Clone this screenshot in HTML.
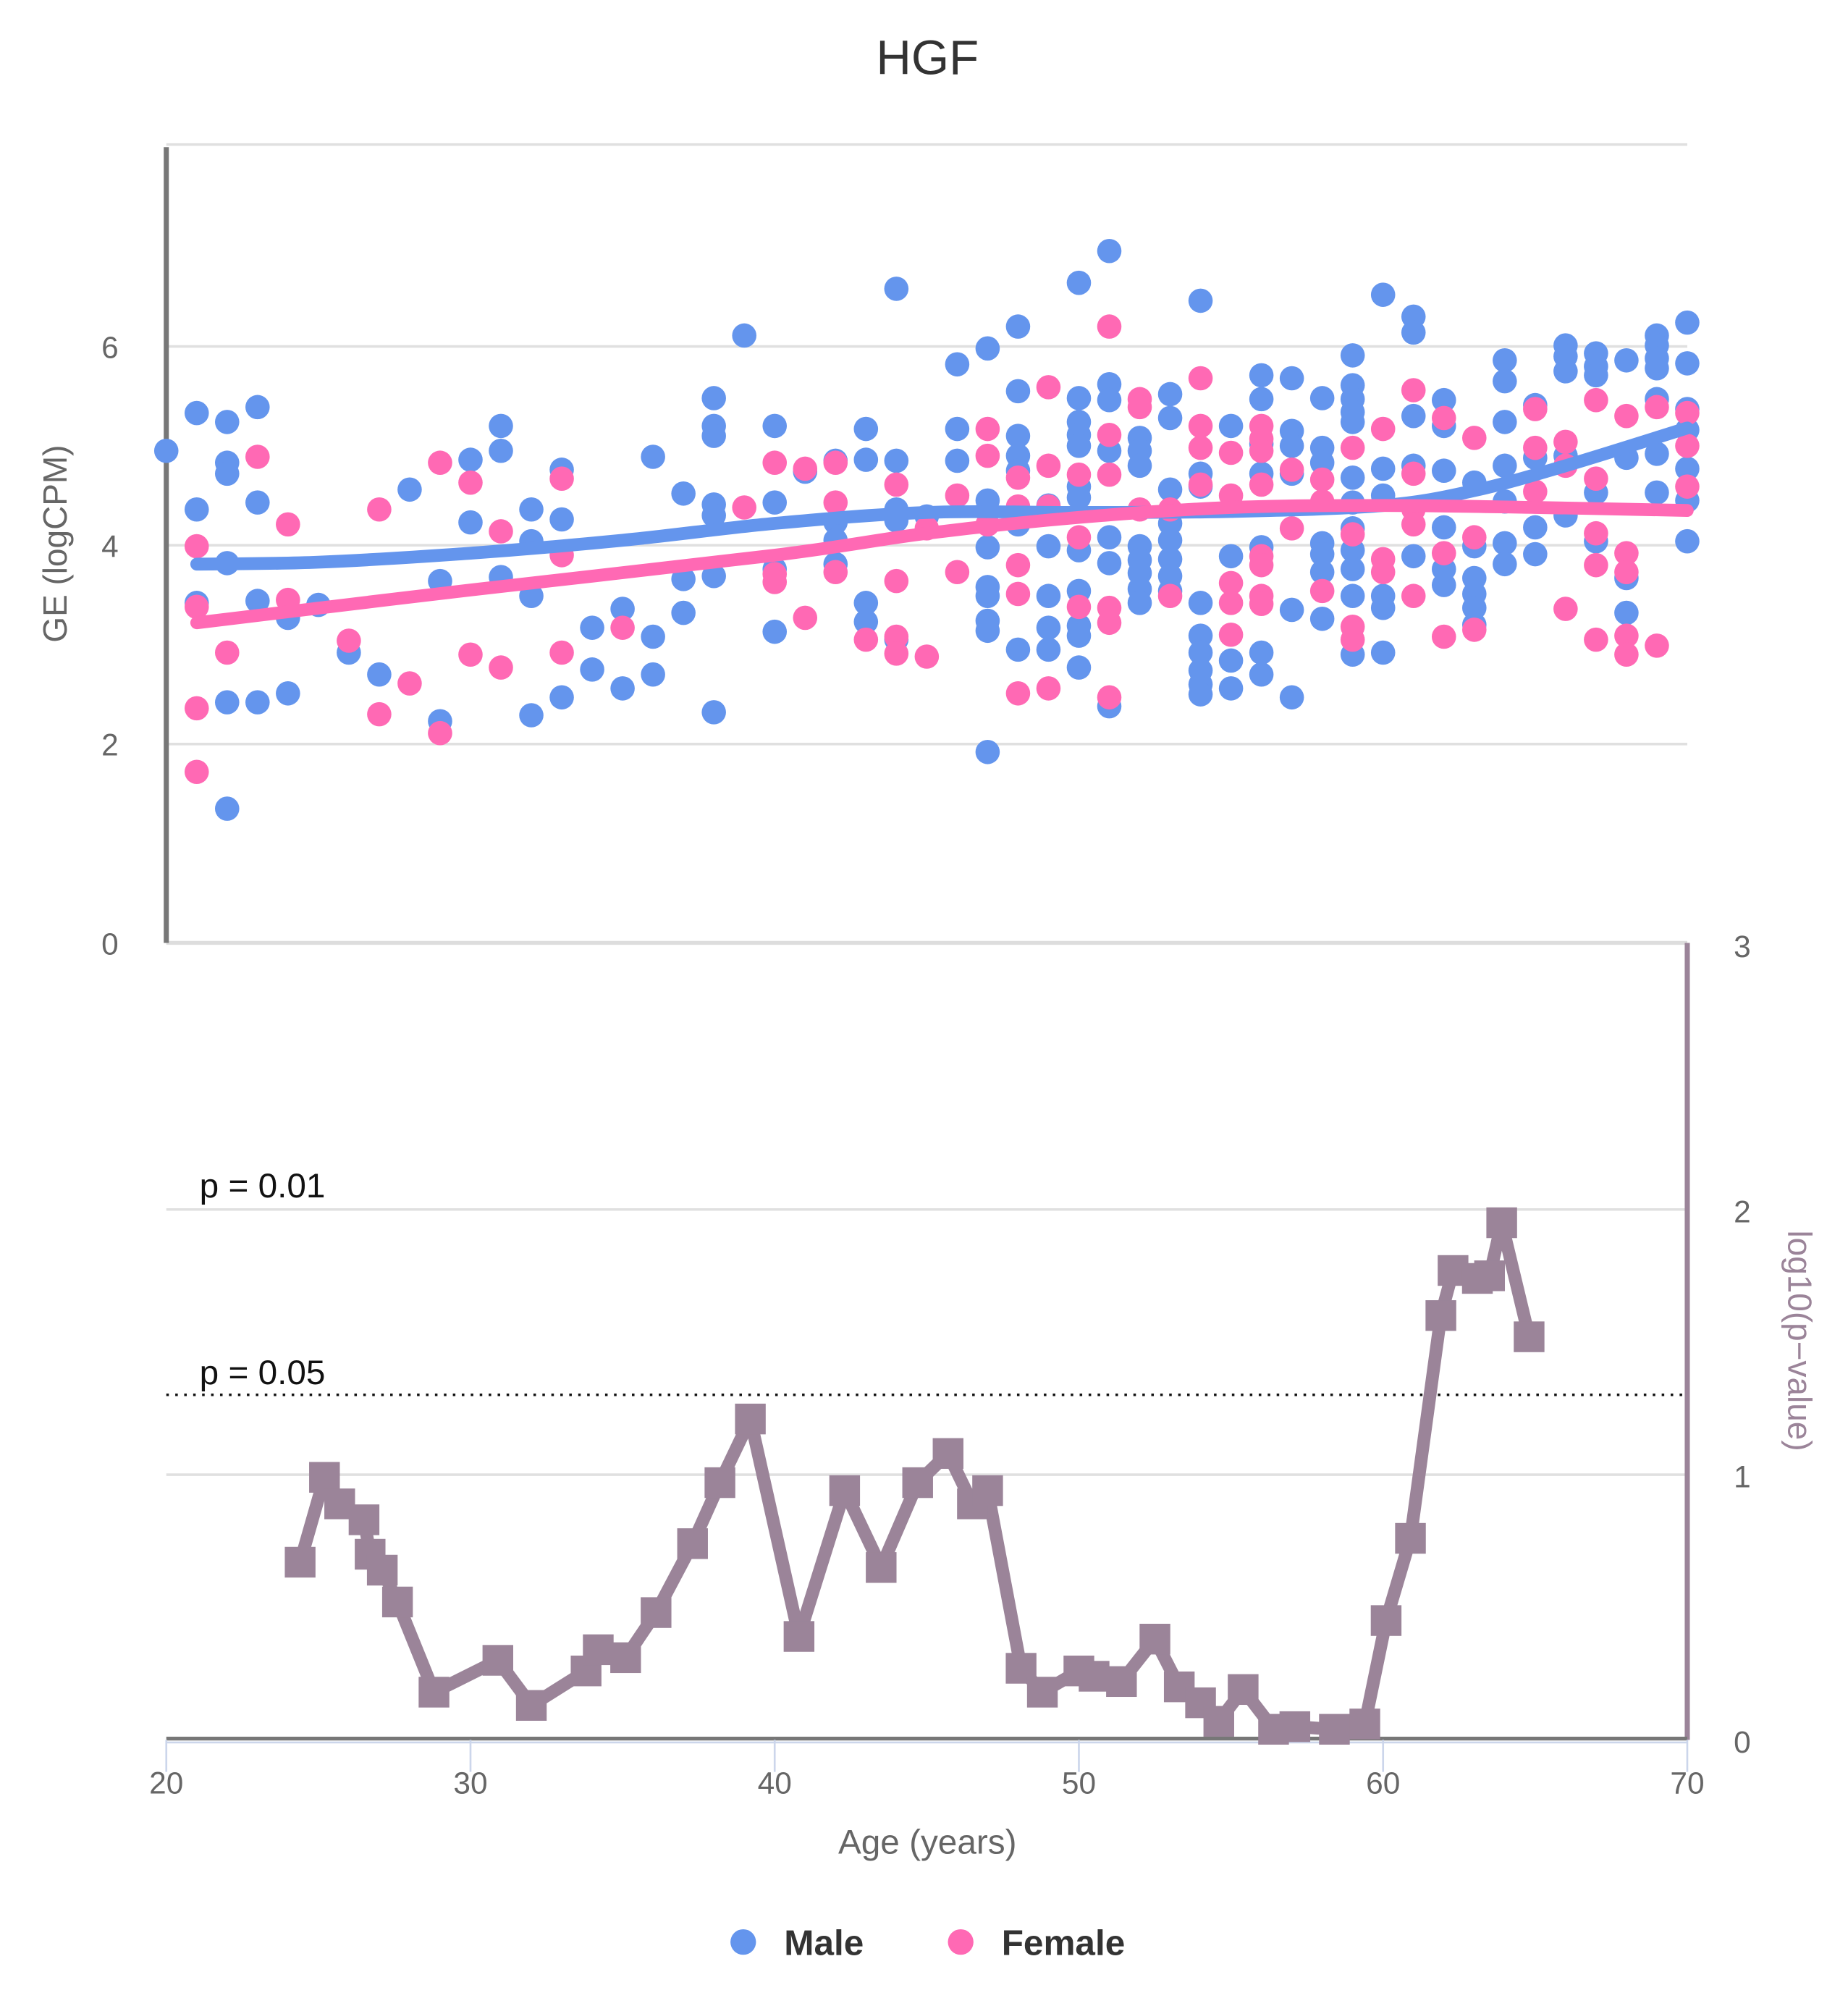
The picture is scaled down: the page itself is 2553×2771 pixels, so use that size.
<!DOCTYPE html>
<html><head><meta charset="utf-8"><style>
html,body{margin:0;padding:0;background:#fff}
svg{display:block;font-family:"Liberation Sans",sans-serif}
</style></head><body>
<svg id="chart" width="2553" height="2771" viewBox="0 0 1444 1568" preserveAspectRatio="xMinYMin meet" xmlns="http://www.w3.org/2000/svg">
<rect width="1444" height="1568" fill="#fff"/>
<text x="725" y="58" text-anchor="middle" font-size="38" fill="#333">HGF</text>
<g id="grid"></g>
<g id="marks"></g>
<g id="labels"></g>
<g>
<circle cx="581" cy="1518" r="10" fill="#6495ed"/>
<text x="613" y="1528" font-size="28" font-weight="bold" fill="#333">Male</text>
<circle cx="751" cy="1518" r="10" fill="#ff69b4"/>
<text x="783" y="1528" font-size="28" font-weight="bold" fill="#333">Female</text>
</g>
</svg>
<script>
const maleAges=[20,21,21,21,22,22,22,22,22,22,23,23,23,23,24,24,25,26,27,28,29,29,30,30,31,31,31,32,32,32,32,33,33,33,34,34,35,35,36,36,36,37,37,37,38,38,38,38,38,38,38,39,40,40,40,40,41,42,42,42,42,43,43,43,43,44,44,44,44,44,45,46,46,46,47,47,47,47,47,47,47,47,48,48,48,48,48,48,48,49,49,49,49,49,50,50,50,50,50,50,50,50,50,50,50,50,51,51,51,51,51,51,51,52,52,52,52,52,52,52,52,53,53,53,53,53,53,53,53,54,54,54,54,54,54,54,54,54,55,55,55,55,56,56,56,56,56,56,56,57,57,57,57,57,57,58,58,58,58,58,58,58,59,59,59,59,59,59,59,59,59,59,59,59,60,60,60,60,60,60,61,61,61,61,61,62,62,62,62,62,62,63,63,63,63,63,63,64,64,64,64,64,64,64,65,65,65,65,66,66,66,66,66,67,67,67,67,67,68,68,68,68,69,69,69,69,69,69,69,70,70,70,70,70,70,70];
const maleValues=[4.95,5.33,4.36,3.42,5.24,4.83,4.72,3.82,2.42,1.35,5.39,4.43,3.44,2.42,3.27,2.51,3.4,2.92,2.7,4.56,2.23,3.64,4.86,4.23,5.2,4.95,3.68,4.36,4.04,3.49,2.29,4.76,4.26,2.47,3.17,2.75,3.36,2.56,4.89,3.08,2.7,4.52,3.66,3.32,5.48,5.2,5.1,4.41,4.3,3.69,2.32,6.11,5.2,4.43,3.76,3.13,4.74,4.85,4.23,4.05,3.81,5.17,4.86,3.42,3.23,6.58,4.85,4.36,4.25,3.05,4.29,5.82,5.17,4.85,5.98,4.45,3.98,3.58,3.49,3.24,3.14,1.92,6.2,5.55,5.1,4.9,4.75,4.21,2.95,4.4,3.99,3.49,3.17,2.95,6.64,5.48,5.24,5.11,5.0,4.59,4.48,3.95,3.54,3.19,3.09,2.77,6.96,5.62,5.46,4.95,4.08,3.82,2.38,5.08,4.95,4.8,3.99,3.85,3.72,3.56,3.42,5.52,5.28,4.56,4.22,4.05,3.86,3.69,3.54,6.46,4.72,4.59,3.42,3.09,2.92,2.74,2.6,2.5,5.2,3.89,2.84,2.56,5.71,5.47,5.02,4.72,3.98,2.92,2.7,5.68,5.15,5.0,4.72,3.35,2.47,5.48,4.98,4.83,4.02,3.91,3.73,3.26,5.91,5.61,5.47,5.34,5.24,4.68,4.43,4.17,3.95,3.76,3.49,2.9,6.52,4.77,4.5,3.49,3.37,2.92,6.3,6.14,5.3,4.8,3.89,5.46,5.2,4.75,4.18,3.76,3.6,4.63,3.99,3.67,3.51,3.37,3.2,5.86,5.65,5.24,4.8,4.44,4.02,3.81,5.41,4.88,4.18,3.91,6.01,5.9,5.75,4.9,4.3,5.93,5.8,5.71,4.53,4.04,5.86,4.88,3.67,3.32,6.11,6.01,5.88,5.78,5.47,4.92,4.53,6.24,5.83,5.37,5.16,4.77,4.45,4.04];
const femaleAges=[21,21,21,21,22,23,24,24,26,27,27,28,29,29,30,30,31,31,33,33,33,35,39,40,40,40,41,41,42,42,42,43,44,44,44,44,45,45,46,46,47,47,47,48,48,48,48,48,49,49,49,49,50,50,50,51,51,51,51,51,51,52,52,52,53,53,54,54,54,54,55,55,55,55,55,56,56,56,56,56,56,56,56,57,57,58,58,58,59,59,59,59,60,60,60,61,61,61,61,61,62,62,62,63,63,63,65,65,65,66,66,66,67,67,67,67,67,68,68,68,68,68,69,69,70,70,70];
const femaleValues=[1.72,2.36,3.38,3.99,2.92,4.89,4.21,3.45,3.04,4.36,2.3,2.61,4.83,2.11,4.63,2.9,4.14,2.77,4.67,3.9,2.92,3.17,4.38,4.83,3.71,3.63,4.77,3.27,4.83,4.43,3.73,3.05,4.61,3.64,3.08,2.91,2.88,4.17,4.5,3.73,5.17,4.9,4.21,4.68,4.39,3.8,3.51,2.51,5.59,4.8,4.39,2.56,4.71,4.08,3.38,6.2,5.11,4.71,3.37,3.22,2.47,5.47,5.39,4.36,4.36,3.49,5.68,5.2,4.98,4.61,4.93,4.5,3.62,3.42,3.1,5.2,5.07,4.95,4.61,3.89,3.8,3.49,3.41,4.76,4.17,4.66,4.44,3.54,4.98,4.11,3.18,3.05,5.17,3.86,3.73,5.56,4.72,4.36,4.21,3.49,5.28,3.92,3.08,5.08,4.08,3.15,5.37,4.98,4.54,5.04,4.8,3.36,5.46,4.67,4.12,3.8,3.05,5.3,3.92,3.73,3.09,2.9,5.39,2.99,5.33,5.0,4.59];
const maleTrendAges=[21,25,30,35,40,45,50,55,60,63,66,70];
const maleTrendValues=[3.81,3.83,3.92,4.05,4.22,4.33,4.33,4.34,4.4,4.55,4.8,5.18];
const femaleTrendAges=[21,30,40,45,50,55,60,65,70];
const femaleTrendValues=[3.22,3.55,3.9,4.12,4.28,4.38,4.4,4.38,4.35];
const pAges=[24.4,25.2,25.7,26.5,26.7,27.1,27.6,28.8,30.9,32.0,33.8,34.2,35.1,36.1,37.3,38.2,39.2,40.8,42.3,43.5,44.7,45.7,46.5,47.0,48.1,48.8,50.0,50.5,51.4,52.5,53.3,54.0,54.6,55.4,56.4,57.1,58.4,59.4,60.1,60.9,61.9,62.3,63.1,63.5,63.9,64.8];
const pValues=[0.67,0.99,0.89,0.83,0.70,0.64,0.52,0.18,0.30,0.13,0.26,0.34,0.31,0.48,0.74,0.97,1.21,0.39,0.94,0.65,0.97,1.08,0.89,0.94,0.27,0.18,0.26,0.24,0.22,0.38,0.20,0.14,0.07,0.19,0.04,0.05,0.04,0.06,0.45,0.76,1.60,1.77,1.74,1.75,1.95,1.52];
const xTicks=[20,30,40,50,60,70];
const geTicks=[0,2,4,6];
const pTicks=[0,1,2,3];

const NS="http://www.w3.org/2000/svg";
const X=a=>130+(a-20)*(1319-130)/50;
const YG=v=>737-v*77.7;
const YP=v=>1360-v*207.3;
function mk(parent,tag,attrs){const e=document.createElementNS(NS,tag);for(const k in attrs)e.setAttribute(k,attrs[k]);document.getElementById(parent).appendChild(e);return e;}

[113].concat(geTicks.slice(1).map(YG)).forEach(y=>{const l=mk('grid','line',{x1:130,x2:1319,y1:y,y2:y,stroke:'#e0e0e0','stroke-width':2});

});
let b=mk('grid','line',{x1:130,x2:1319,y1:737,y2:737,stroke:'#ddd','stroke-width':3});


[1,2].forEach(v=>{const l=mk('grid','line',{x1:130,x2:1319,y1:YP(v),y2:YP(v),stroke:'#e0e0e0','stroke-width':2});

});
let d=mk('grid','line',{x1:130,x2:1315,y1:YP(-Math.log10(0.05)),y2:YP(-Math.log10(0.05)),stroke:'#111','stroke-width':2,'stroke-dasharray':'2,5'});


let la=mk('grid','line',{x1:130,x2:130,y1:115,y2:737,stroke:'#777','stroke-width':4});


let ra=mk('grid','line',{x1:1319,x2:1319,y1:737,y2:1360,stroke:'#9b8499','stroke-width':4});


let xa=mk('grid','line',{x1:130,x2:1319,y1:1359,y2:1359,stroke:'#777','stroke-width':3});


mk('grid','line',{x1:130,x2:1319,y1:1362,y2:1362,stroke:'#ccd6eb','stroke-width':1.5});
xTicks.forEach(t=>{const l=mk('grid','line',{x1:X(t),x2:X(t),y1:1360,y2:1385,stroke:'#ccd6eb','stroke-width':1.5});


const tx=mk('labels','text',{x:X(t),y:1402,'text-anchor':'middle','font-size':24,fill:'#666'});tx.textContent=t;

});
geTicks.forEach(t=>{const tx=mk('labels','text',{x:86,y:YG(t)+9,'text-anchor':'middle','font-size':24,fill:'#666'});tx.textContent=t;

});
pTicks.forEach(t=>{const tx=mk('labels','text',{x:1362,y:YP(t)+10,'text-anchor':'middle','font-size':24,fill:'#666'});tx.textContent=t;

});

maleAges.forEach((a,i)=>{const c=mk('marks','circle',{cx:X(a),cy:YG(maleValues[i]),r:9.5,fill:'#6495ed'});

});
femaleAges.forEach((a,i)=>{const c=mk('marks','circle',{cx:X(a),cy:YG(femaleValues[i]),r:9.5,fill:'#ff69b4'});

});
function catmull(xs,ys){let p=`M${xs[0]},${ys[0]}`;for(let i=0;i<xs.length-1;i++){const x0=xs[Math.max(i-1,0)],y0=ys[Math.max(i-1,0)],x1=xs[i],y1=ys[i],x2=xs[i+1],y2=ys[i+1],x3=xs[Math.min(i+2,xs.length-1)],y3=ys[Math.min(i+2,xs.length-1)];p+=` C${x1+(x2-x0)/6},${y1+(y2-y0)/6} ${x2-(x3-x1)/6},${y2-(y3-y1)/6} ${x2},${y2}`;}return p;}
let mt=mk('marks','path',{d:catmull(maleTrendAges.map(X),maleTrendValues.map(YG)),fill:'none',stroke:'#6495ed','stroke-width':10,'stroke-linecap':'round'});


let ft=mk('marks','path',{d:catmull(femaleTrendAges.map(X),femaleTrendValues.map(YG)),fill:'none',stroke:'#ff69b4','stroke-width':10,'stroke-linecap':'round'});



let pl=mk('marks','polyline',{points:pAges.map((a,i)=>X(a)+','+YP(pValues[i])).join(' '),fill:'none',stroke:'#9b8499','stroke-width':10,'stroke-linejoin':'round'});


pAges.forEach((a,i)=>{const r=mk('marks','rect',{x:X(a)-12,y:YP(pValues[i])-12,width:24,height:24,fill:'#9b8499'});

});

function txt(name,s,attrs){const t=mk('labels','text',attrs);t.textContent=s;

return t;}
txt('p001-label','p = 0.01',{x:156,y:936,'font-size':27,fill:'#111'});
txt('p005-label','p = 0.05',{x:156,y:1082,'font-size':27,fill:'#111'});
txt('ge-y-axis-title','GE (logCPM)',{x:0,y:0,'font-size':26,fill:'#666','text-anchor':'middle',transform:'translate(52,425) rotate(-90)'});
txt('p-y-axis-title','log10(p\u2212value)',{x:0,y:0,'font-size':26,fill:'#9b8499','text-anchor':'middle',transform:'translate(1398,1048) rotate(90)'});
txt('x-axis-title','Age (years)',{x:725,y:1449,'font-size':27,fill:'#666','text-anchor':'middle'});
</script>
</body></html>
